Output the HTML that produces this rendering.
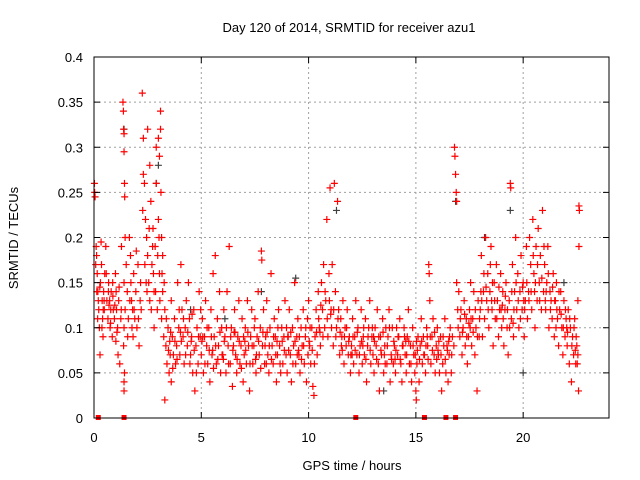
<!DOCTYPE html>
<html><head><meta charset="utf-8"><style>
body{margin:0;background:#fff;width:640px;height:480px;overflow:hidden}
svg{display:block;font-family:"Liberation Sans",sans-serif}
</style></head><body>
<svg id="chart" width="640" height="480" viewBox="0 0 640 480">
<rect width="640" height="480" fill="#fff"/>
<text x="349" y="32" font-size="13" text-anchor="middle">Day 120 of 2014, SRMTID for receiver azu1</text>
<text x="352" y="470" font-size="13" text-anchor="middle">GPS time / hours</text>
<text transform="translate(18,238) rotate(-90)" font-size="13" text-anchor="middle">SRMTID / TECUs</text>
<g id="grid"></g>
<g id="marks"></g>
<g id="axes"></g>
</svg>
<script>
const xTicks=[0,5,10,15,20];
const yTicks=[0,0.05,0.1,0.15,0.2,0.25,0.3,0.35,0.4];
const yTickLabels=["0","0.05","0.1","0.15","0.2","0.25","0.3","0.35","0.4"];
const zeroTimes=[0.2,1.4,12.2,15.4,16.4,16.85];
const grayPoints=[[3.0,.28],[2.9,.26],[11.3,.23],[16.85,.24],[19.4,.23],[7.8,.14],[4.5,.12],[13.5,.03],[21.9,.15],[20.0,.05],[1.4,.32],[9.4,.155],[6.1,.11],[18.2,.2]];
const redPoints=[
[0.02,.26],[0.03,.25],[0.05,.245],[0.1,.19],[0.12,.18],[0.15,.16],[0.18,.14],[0.2,.13],[0.22,.12],[0.25,.10],[0.28,.07],[0.3,.15],[0.33,.195],[0.35,.17],[0.38,.13],[0.4,.11],[0.42,.09],[0.45,.14],[0.48,.12],[0.5,.16],
[0.55,.19],[0.6,.13],[0.65,.11],[0.68,.15],[0.7,.125],[0.75,.10],[0.78,.12],[0.8,.14],[0.85,.09],[0.88,.135],[0.9,.12],[0.95,.11],[1.0,.16],[1.02,.085],[1.05,.12],[1.1,.10],[1.12,.07],[1.15,.13],[1.2,.06],[1.25,.11],[1.28,.19],
[1.35,.35],[1.37,.34],[1.38,.32],[1.4,.315],[1.4,.295],[1.42,.26],[1.43,.245],[1.45,.2],[1.4,.15],[1.45,.12],[1.4,.10],[1.38,.08],[1.42,.05],[1.4,.04],[1.4,.03],[1.5,.17],[1.55,.14],[1.6,.11],
[1.65,.2],[1.7,.18],[1.72,.15],[1.75,.13],[1.8,.12],[1.82,.09],[1.85,.16],[1.9,.11],[1.95,.14],[2.0,.1],[2.05,.17],[2.1,.08],[2.15,.13],[2.2,.12],
[2.25,.36],[2.3,.31],[2.3,.27],[2.35,.26],[2.4,.22],[2.45,.2],[2.5,.32],[2.5,.18],[2.55,.15],[2.6,.13],[2.6,.28],[2.65,.24],[2.7,.17],[2.75,.21],[2.8,.14],[2.8,.1],[2.85,.19],[2.9,.3],[2.9,.26],[2.95,.12],[3.0,.31],[3.0,.22],[3.05,.16],[3.05,.29],[3.1,.32],[3.1,.34],[3.12,.25],[3.15,.2],[3.15,.11],[3.2,.14],[3.2,.18],[3.25,.09],[3.3,.12],[3.3,.02],
[3.35,.08],[3.4,.06],[3.45,.1],[3.5,.05],[3.55,.07],[3.6,.13],[3.6,.04],[3.65,.09],[3.7,.07],[3.75,.11],[3.8,.06],[3.85,.08],[3.9,.15],[3.95,.1],[4.0,.07],[4.05,.17],[4.1,.12],[4.15,.09],[4.2,.06],[4.25,.1],[4.3,.13],[4.35,.08],[4.4,.15],[4.45,.11],[4.5,.07],[4.55,.09],[4.6,.05],[4.65,.12],[4.7,.03],[4.75,.08],[4.8,.1],[4.85,.06],[4.9,.14],[4.95,.09],
[5.0,.07],[5.05,.11],[5.1,.05],[5.15,.09],[5.2,.13],[5.25,.08],[5.3,.06],[5.35,.1],[5.4,.04],[5.45,.12],[5.5,.07],[5.55,.16],[5.6,.09],[5.65,.18],[5.7,.06],[5.75,.11],[5.8,.08],[5.85,.14],[5.9,.05],[5.95,.1],
[6.0,.07],[6.05,.12],[6.1,.09],[6.15,.05],[6.2,.14],[6.25,.08],[6.3,.19],[6.35,.06],[6.4,.1],[6.45,.035],[6.5,.08],[6.55,.12],[6.6,.07],[6.65,.05],[6.7,.09],[6.75,.13],[6.8,.06],[6.85,.08],[6.9,.11],[6.95,.04],
[7.0,.07],[7.05,.1],[7.1,.06],[7.15,.13],[7.2,.08],[7.25,.03],[7.3,.09],[7.35,.12],[7.4,.06],[7.45,.08],[7.5,.11],[7.55,.05],[7.6,.09],[7.65,.14],[7.7,.07],[7.75,.1],[7.8,.185],[7.82,.175],[7.85,.08],[7.9,.12],[7.95,.06],
[8.0,.09],[8.05,.13],[8.1,.07],[8.15,.05],[8.2,.1],[8.25,.16],[8.3,.08],[8.35,.06],[8.4,.11],[8.45,.09],[8.5,.04],[8.55,.07],[8.6,.12],[8.65,.08],[8.7,.05],[8.75,.1],[8.8,.06],[8.85,.09],[8.9,.13],[8.95,.07],
[9.0,.05],[9.05,.09],[9.1,.12],[9.15,.07],[9.2,.04],[9.25,.1],[9.3,.08],[9.35,.15],[9.4,.06],[9.45,.09],[9.5,.11],[9.55,.07],[9.6,.05],[9.65,.1],[9.7,.08],[9.75,.12],[9.8,.06],[9.85,.09],[9.9,.04],[9.95,.11],
[10.0,.13],[10.05,.08],[10.1,.06],[10.15,.1],[10.2,.035],[10.25,.025],[10.3,.09],[10.35,.12],[10.4,.07],[10.45,.14],[10.5,.1],[10.55,.08],[10.6,.15],[10.65,.12],[10.7,.17],[10.75,.1],[10.8,.13],[10.85,.22],[10.9,.09],[10.95,.16],
[11.0,.255],[11.05,.12],[11.1,.17],[11.15,.08],[11.2,.26],[11.25,.14],[11.3,.1],[11.35,.24],[11.4,.12],[11.45,.07],[11.5,.11],[11.55,.09],[11.6,.13],[11.65,.06],[11.7,.1],[11.75,.08],[11.8,.12],[11.85,.07],[11.9,.09],[11.95,.05],
[12.0,.08],[12.05,.11],[12.1,.06],[12.15,.09],[12.2,.13],[12.25,.07],[12.3,.1],[12.35,.05],[12.4,.08],[12.45,.12],[12.5,.06],[12.55,.09],[12.6,.07],[12.65,.11],[12.7,.04],[12.75,.08],[12.8,.1],[12.85,.13],[12.9,.06],[12.95,.09],
[13.0,.07],[13.05,.05],[13.1,.1],[13.15,.08],[13.2,.12],[13.25,.06],[13.3,.03],[13.35,.09],[13.4,.07],[13.45,.11],[13.5,.05],[13.55,.08],[13.6,.1],[13.65,.06],[13.7,.09],[13.75,.12],[13.8,.04],[13.85,.07],[13.9,.1],[13.95,.06],
[14.0,.08],[14.05,.05],[14.1,.1],[14.15,.07],[14.2,.09],[14.25,.11],[14.3,.06],[14.35,.04],[14.4,.08],[14.45,.1],[14.5,.07],[14.55,.05],[14.6,.09],[14.65,.12],[14.7,.06],[14.75,.08],[14.8,.04],[14.85,.1],[14.9,.07],[14.95,.05],
[15.0,.03],[15.02,.02],[15.05,.06],[15.1,.09],[15.15,.04],[15.2,.08],[15.25,.11],[15.3,.06],[15.35,.09],[15.4,.07],[15.45,.05],[15.5,.1],[15.55,.08],[15.6,.17],[15.62,.16],[15.65,.13],[15.7,.06],[15.75,.09],[15.8,.11],[15.85,.07],[15.9,.05],[15.95,.08],
[16.0,.1],[16.05,.07],[16.1,.05],[16.15,.09],[16.2,.03],[16.25,.06],[16.3,.08],[16.35,.11],[16.4,.05],[16.45,.08],[16.5,.04],[16.55,.07],[16.6,.1],[16.65,.05],[16.7,.09],[16.8,.3],[16.82,.29],[16.85,.27],[16.88,.25],[16.9,.24],[16.9,.15],[16.95,.12],
[17.0,.14],[17.05,.09],[17.1,.12],[17.15,.07],[17.2,.1],[17.25,.13],[17.3,.08],[17.35,.11],[17.4,.06],[17.45,.09],[17.5,.12],[17.55,.15],[17.6,.08],[17.65,.11],[17.7,.14],[17.75,.07],[17.8,.1],[17.85,.03],[17.9,.13],[17.95,.09],
[18.0,.12],[18.05,.18],[18.1,.09],[18.15,.14],[18.2,.11],[18.25,.2],[18.3,.13],[18.35,.16],[18.4,.1],[18.45,.14],[18.5,.19],[18.55,.12],[18.6,.08],[18.65,.15],[18.7,.11],[18.75,.17],[18.8,.13],[18.85,.09],[18.9,.12],[18.95,.16],
[19.0,.1],[19.05,.14],[19.1,.08],[19.15,.12],[19.2,.15],[19.25,.1],[19.3,.07],[19.35,.13],[19.4,.26],[19.42,.255],[19.45,.11],[19.5,.17],[19.55,.09],[19.6,.14],[19.65,.2],[19.7,.12],[19.75,.16],[19.8,.1],[19.85,.14],[19.9,.18],[19.95,.12],
[20.0,.15],[20.05,.09],[20.1,.13],[20.15,.19],[20.2,.11],[20.25,.14],[20.3,.2],[20.35,.17],[20.4,.12],[20.45,.22],[20.5,.16],[20.55,.1],[20.6,.19],[20.65,.13],[20.7,.21],[20.75,.15],[20.8,.18],[20.85,.12],[20.9,.23],[20.95,.14],
[21.0,.17],[21.05,.12],[21.1,.15],[21.15,.19],[21.2,.1],[21.25,.14],[21.3,.13],[21.35,.11],[21.4,.16],[21.45,.09],[21.5,.13],[21.55,.15],[21.6,.11],[21.65,.08],[21.7,.12],[21.75,.14],[21.8,.1],[21.85,.07],[21.9,.13],[21.95,.09],
[22.0,.11],[22.05,.08],[22.1,.12],[22.15,.06],[22.2,.1],[22.25,.04],[22.3,.09],[22.35,.07],[22.4,.11],[22.45,.06],[22.5,.08],[22.55,.13],[22.6,.235],[22.62,.23],[22.6,.19],[22.58,.03],[22.55,.07]
];
const redPoints2=[
[0.08,.17],[0.17,.11],[0.27,.145],[0.37,.1],[0.47,.13],[0.57,.16],[0.67,.14],[0.77,.105],[0.87,.15],[0.97,.125],[1.07,.095],[1.17,.145],[1.27,.12],[1.57,.09],[1.67,.13],[1.77,.1],[1.87,.12],[1.97,.185],[2.07,.11],[2.17,.15],
[2.27,.23],[2.37,.17],[2.47,.14],[2.57,.21],[2.67,.12],[2.77,.16],[2.87,.14],[2.97,.18],[3.07,.13],[3.17,.16],[3.27,.15],[3.37,.11],[3.47,.075],[3.57,.095],[3.67,.055],[3.77,.085],[3.87,.065],[3.97,.12],[4.07,.085],[4.17,.11],[4.27,.07],[4.37,.095],[4.47,.06],[4.57,.115],[4.67,.075],[4.77,.05],[4.87,.09],[4.97,.12],
[5.07,.09],[5.17,.06],[5.27,.1],[5.37,.075],[5.47,.09],[5.57,.055],[5.67,.08],[5.77,.065],[5.87,.095],[5.97,.07],[6.07,.085],[6.17,.1],[6.27,.06],[6.37,.09],[6.47,.075],[6.57,.095],[6.67,.065],[6.77,.085],[6.87,.055],[6.97,.09],
[7.07,.075],[7.17,.095],[7.27,.06],[7.37,.08],[7.47,.1],[7.57,.07],[7.67,.085],[7.77,.055],[7.87,.095],[7.97,.08],[8.07,.095],[8.17,.08],[8.27,.065],[8.37,.09],[8.47,.07],[8.57,.1],[8.67,.06],[8.77,.085],[8.87,.075],[8.97,.1],
[9.07,.075],[9.17,.095],[9.27,.06],[9.37,.085],[9.47,.07],[9.57,.09],[9.67,.065],[9.77,.08],[9.87,.1],[9.97,.07],[10.07,.1],[10.17,.075],[10.27,.06],[10.37,.095],[10.47,.11],[10.57,.125],[10.67,.09],[10.77,.14],[10.87,.11],[10.97,.13],
[11.07,.1],[11.17,.12],[11.27,.09],[11.37,.11],[11.47,.095],[11.57,.075],[11.67,.09],[11.77,.1],[11.87,.085],[11.97,.07],[12.07,.09],[12.17,.075],[12.27,.095],[12.37,.07],[12.47,.085],[12.57,.1],[12.67,.065],[12.77,.09],[12.87,.075],[12.97,.1],
[13.07,.085],[13.17,.065],[13.27,.09],[13.37,.075],[13.47,.095],[13.57,.06],[13.67,.08],[13.77,.1],[13.87,.065],[13.97,.085],[14.07,.075],[14.17,.09],[14.27,.065],[14.37,.08],[14.47,.09],[14.57,.07],[14.67,.085],[14.77,.06],[14.87,.08],[14.97,.07],
[15.07,.075],[15.17,.065],[15.27,.085],[15.37,.07],[15.47,.08],[15.57,.065],[15.67,.09],[15.77,.075],[15.87,.095],[15.97,.065],[16.07,.085],[16.17,.07],[16.27,.09],[16.37,.065],[16.47,.075],[16.57,.09],[16.67,.07],[16.77,.08],[16.97,.1],[17.07,.11],
[17.17,.095],[17.27,.115],[17.37,.09],[17.47,.105],[17.57,.11],[17.67,.095],[17.77,.12],[17.87,.09],[17.97,.11],[18.07,.13],[18.17,.16],[18.27,.145],[18.37,.12],[18.47,.17],[18.57,.15],[18.67,.13],[18.77,.11],[18.87,.145],[18.97,.12],[19.07,.11],
[19.17,.135],[19.27,.12],[19.37,.1],[19.47,.14],[19.57,.12],[19.67,.15],[19.77,.13],[19.87,.11],[19.97,.145],[20.07,.12],[20.17,.15],[20.27,.13],[20.37,.14],[20.47,.18],[20.57,.15],[20.67,.17],[20.77,.13],[20.87,.155],[20.97,.19],[21.07,.14],
[21.17,.16],[21.27,.12],[21.37,.145],[21.47,.13],[21.57,.12],[21.67,.14],[21.77,.115],[21.87,.1],[21.97,.12],[22.07,.095],[22.17,.11],[22.27,.08],[22.37,.1],[22.47,.09],[22.52,.06],
[0.13,.14],[0.43,.12],[0.73,.13],[1.03,.14],[2.43,.15],[2.73,.19],[3.03,.2],[3.53,.085],[4.03,.095],[4.53,.085],[5.03,.085],[5.53,.075],[6.03,.065],[6.53,.095],[7.03,.085],[7.53,.065],[8.03,.06],[8.53,.085],[9.03,.09],[9.53,.075],
[10.03,.085],[10.53,.095],[11.03,.115],[11.53,.08],[12.03,.07],[12.53,.08],[13.03,.09],[13.53,.07],[14.03,.065],[14.53,.085],[15.03,.085],[15.53,.09],[16.03,.075],[16.53,.085],[17.53,.1],[18.03,.14],[18.53,.13],[19.03,.125],[19.53,.105],[20.03,.13],
[20.53,.14],[21.03,.13],[21.53,.1],[22.03,.1],[22.43,.075]
];
const NS="http://www.w3.org/2000/svg";
const L=94,R=609,T=57,B=418,XMAX=24,YMAX=0.4;
function xs(t){return L+(R-L)*t/XMAX;}
function ys(v){return B-(B-T)*v/YMAX;}
function mk(tag,attrs,parent){const e=document.createElementNS(NS,tag);for(const k in attrs)e.setAttribute(k,attrs[k]);parent.appendChild(e);return e;}
const grid=document.getElementById('grid'),marks=document.getElementById('marks'),axes=document.getElementById('axes');
yTicks.forEach((v,i)=>{
  const y=ys(v);
  if(v>0&&v<YMAX){const g=mk('line',{x1:L,x2:R,y1:y,y2:y,stroke:'#a0a0a0','stroke-dasharray':'2,3'},grid);
  
  }
  mk('line',{x1:L,x2:L+6,y1:y,y2:y,stroke:'#000'},axes);
  mk('line',{x1:R-6,x2:R,y1:y,y2:y,stroke:'#000'},axes);
  const t=mk('text',{x:L-11,y:y+5,'font-size':13,'text-anchor':'end'},axes);
  t.textContent=yTickLabels[i];
  
  
});
xTicks.forEach(v=>{
  const x=xs(v);
  if(v>0){const g=mk('line',{x1:x,x2:x,y1:T,y2:B,stroke:'#a0a0a0','stroke-dasharray':'2,3'},grid);
  
  }
  mk('line',{x1:x,x2:x,y1:B,y2:B-6,stroke:'#000'},axes);
  mk('line',{x1:x,x2:x,y1:T,y2:T+6,stroke:'#000'},axes);
  const t=mk('text',{x:x,y:442,'font-size':13,'text-anchor':'middle'},axes);
  t.textContent=String(v);
  
  
});
const frame=mk('rect',{x:L,y:T,width:R-L,height:B-T,fill:'none',stroke:'#000','stroke-width':1},axes);


function plus(t,v,color,name){
  const x=xs(t),y=ys(v);
  const p=mk('path',{d:`M${x-3.5},${y}h7M${x},${y-3.5}v7`,stroke:color,'stroke-width':1.2,fill:'none'},marks);
  
  
}
grayPoints.forEach(p=>plus(p[0],p[1],'#404040','gray-point'));
redPoints.forEach(p=>plus(p[0],p[1],'#ff0000','red-point'));
redPoints2.forEach(p=>plus(p[0],p[1],'#ff0000','red-point'));
zeroTimes.forEach(t=>{
  const r=mk('rect',{x:xs(t)-2.5,y:B-3,width:5,height:5,fill:'#ff0000'},marks);
  
  
});
</script>
</body></html>
